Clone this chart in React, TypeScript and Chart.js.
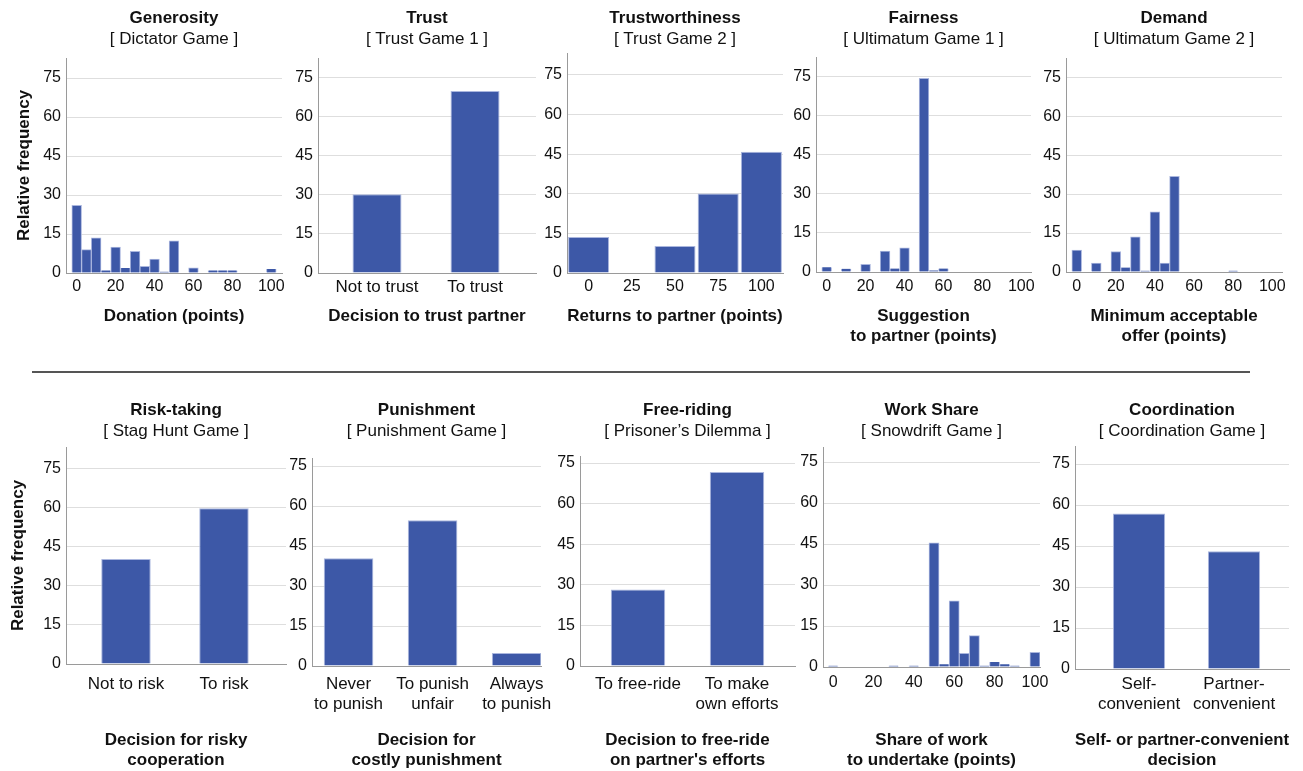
import React, { useEffect, useRef } from 'react';
import { Chart, registerables } from 'chart.js';

Chart.register(...registerables);

// ---------------- data ----------------
const HIST_BINS = [0, 5, 10, 15, 20, 25, 30, 35, 40, 45, 50, 55, 60, 65, 70, 75, 80, 85, 90, 95, 100];
const HIST_TICKS = [0, 20, 40, 60, 80, 100];
const Y_TICKS = [0, 15, 30, 45, 60, 75];

const GENEROSITY_VALUES = [26.0, 9.0, 13.5, 1.0, 10.0, 1.9, 8.3, 2.6, 5.4, 0.5, 12.4, 0, 2.0, 0, 1.0, 1.0, 1.0, 0, 0, 0, 1.5];

const TRUST_LABELS = ['Not to trust', 'To trust'];
const TRUST_VALUES = [30.2, 69.8];

const TRUSTWORTHINESS_BINS = [0, 25, 50, 75, 100];
const TRUSTWORTHINESS_VALUES = [13.6, 0, 10.2, 30.1, 45.9];

const FAIRNESS_VALUES = [1.8, 0, 1.2, 0, 2.9, 0, 8.0, 1.3, 9.3, 0, 74.3, 0.6, 1.3, 0, 0, 0, 0, 0, 0, 0, 0];

const DEMAND_VALUES = [8.4, 0, 3.4, 0, 7.9, 1.7, 13.5, 0.5, 23.2, 3.4, 36.8, 0, 0, 0, 0, 0, 0.5, 0, 0, 0, 0];

const RISK_LABELS = ['Not to risk', 'To risk'];
const RISK_VALUES = [40.3, 59.7];

const PUNISH_LABELS = [['Never', 'to punish'], ['To punish', 'unfair'], ['Always', 'to punish']];
const PUNISH_VALUES = [40.4, 54.7, 4.9];

const FREERIDE_LABELS = [['To free-ride'], ['To make', 'own efforts']];
const FREERIDE_VALUES = [28.3, 71.7];

const WORKSHARE_VALUES = [0.5, 0, 0, 0, 0, 0, 0.5, 0, 0.5, 0, 45.4, 1.0, 24.2, 5.0, 11.5, 0.5, 1.8, 1.0, 0.5, 0, 5.4];

const COORD_LABELS = [['Self-', 'convenient'], ['Partner-', 'convenient']];
const COORD_VALUES = [56.9, 43.1];

// ---------------- styles ----------------
const FONT = "'Liberation Sans', Arial, Helvetica, sans-serif";
const BAR = '#3d58a7';
const BAR_BORDER = '#aab6de';
const GRID = '#dedede';
const AXIS = '#9a9a9a';
const TEXT = '#111111';

type Label = string | string[];

interface Panel {
  title: string;
  subtitle: string;
  xTitle: string | string[];
  xs: number[];
  values: number[];
  xTicks: number[];
  catLabels?: Label[];
  xMin: number;
  xMax: number;
  ratio: number;
  yMax: number;
  L: number; R: number; T: number; B: number;
  tickY: number;
  row: 0 | 1;
  yTitle: boolean;
}

const idx = (arr: unknown[]) => arr.map((_, i) => i);

const PANELS: Panel[] = [
  { title: 'Generosity', subtitle: '[ Dictator Game ]', xTitle: 'Donation (points)', xs: HIST_BINS, values: GENEROSITY_VALUES, xTicks: HIST_TICKS, xMin: -5.5, xMax: 105.5, ratio: 1, yMax: 82.7, L: 66, R: 282, T: 58, B: 273, tickY: 287, row: 0, yTitle: true },
  { title: 'Trust', subtitle: '[ Trust Game 1 ]', xTitle: 'Decision to trust partner', xs: idx(TRUST_LABELS), values: TRUST_VALUES, xTicks: idx(TRUST_LABELS), catLabels: TRUST_LABELS, xMin: -0.602, xMax: 1.622, ratio: 0.5, yMax: 82.5, L: 318, R: 536, T: 58, B: 273, tickY: 287, row: 0, yTitle: false },
  { title: 'Trustworthiness', subtitle: '[ Trust Game 2 ]', xTitle: 'Returns to partner (points)', xs: TRUSTWORTHINESS_BINS, values: TRUSTWORTHINESS_VALUES, xTicks: TRUSTWORTHINESS_BINS, xMin: -12.5, xMax: 112.5, ratio: 0.95, yMax: 83.3, L: 567, R: 783, T: 53, B: 273, tickY: 287, row: 0, yTitle: false },
  { title: 'Fairness', subtitle: '[ Ultimatum Game 1 ]', xTitle: ['Suggestion', 'to partner (points)'], xs: HIST_BINS, values: FAIRNESS_VALUES, xTicks: HIST_TICKS, xMin: -5.5, xMax: 105, ratio: 1, yMax: 82.5, L: 816, R: 1031, T: 57, B: 272, tickY: 287, row: 0, yTitle: false },
  { title: 'Demand', subtitle: '[ Ultimatum Game 2 ]', xTitle: ['Minimum acceptable', 'offer (points)'], xs: HIST_BINS, values: DEMAND_VALUES, xTicks: HIST_TICKS, xMin: -5.5, xMax: 105, ratio: 1, yMax: 82.4, L: 1066, R: 1282, T: 58, B: 272, tickY: 287, row: 0, yTitle: false },
  { title: 'Risk-taking', subtitle: '[ Stag Hunt Game ]', xTitle: ['Decision for risky', 'cooperation'], xs: idx(RISK_LABELS), values: RISK_VALUES, xTicks: idx(RISK_LABELS), catLabels: RISK_LABELS, xMin: -0.612, xMax: 1.633, ratio: 0.505, yMax: 83.2, L: 66, R: 286, T: 447, B: 664, tickY: 684, row: 1, yTitle: true },
  { title: 'Punishment', subtitle: '[ Punishment Game ]', xTitle: ['Decision for', 'costly punishment'], xs: idx(PUNISH_LABELS), values: PUNISH_VALUES, xTicks: idx(PUNISH_LABELS), catLabels: PUNISH_LABELS, xMin: -0.435, xMax: 2.29, ratio: 0.59, yMax: 78, L: 312, R: 541, T: 458, B: 666, tickY: 684, row: 1, yTitle: false },
  { title: 'Free-riding', subtitle: '[ Prisoner\u2019s Dilemma ]', xTitle: ['Decision to free-ride', "on partner's efforts"], xs: idx(FREERIDE_LABELS), values: FREERIDE_VALUES, xTicks: idx(FREERIDE_LABELS), catLabels: FREERIDE_LABELS, xMin: -0.586, xMax: 1.586, ratio: 0.55, yMax: 77.6, L: 580, R: 795, T: 456, B: 666, tickY: 684, row: 1, yTitle: false },
  { title: 'Work Share', subtitle: '[ Snowdrift Game ]', xTitle: ['Share of work', 'to undertake (points)'], xs: HIST_BINS, values: WORKSHARE_VALUES, xTicks: HIST_TICKS, xMin: -5, xMax: 102.5, ratio: 1, yMax: 80.5, L: 823, R: 1040, T: 447, B: 667, tickY: 683, row: 1, yTitle: false },
  { title: 'Coordination', subtitle: '[ Coordination Game ]', xTitle: ['Self- or partner-convenient', 'decision'], xs: idx(COORD_LABELS), values: COORD_VALUES, xTicks: idx(COORD_LABELS), catLabels: COORD_LABELS, xMin: -0.674, xMax: 1.579, ratio: 0.55, yMax: 81.6, L: 1075, R: 1289, T: 446, B: 669, tickY: 684, row: 1, yTitle: false },
];

const ROWS = [
  { cy0: 0, cy1: 350, titleC: 18, subC: 39, yTitleC: 24.5 },
  { cy0: 380, cy1: 771, titleC: 410, subC: 431.5, yTitleC: 18.5 },
];

function geometry(p: Panel) {
  const row = ROWS[p.row];
  const yW = p.yTitle ? p.L : 45;
  const cx0 = p.L - yW;
  const cx1 = Math.min(p.R + 24, 1303);
  return { row, yW, cx0, cx1, w: cx1 - cx0, h: row.cy1 - row.cy0 };
}

function makeConfig(p: Panel): any {
  const { row, yW, cx1 } = geometry(p);
  const titleLH = 17 * 1.2;
  const tickSize = p.catLabels ? 17 : 16;
  const tickLH = tickSize * 1.2;
  const xTitleLines = Array.isArray(p.xTitle) ? p.xTitle.length : 1;
  const lastLineC = row.cy0 === 0 ? (xTitleLines === 1 ? 316 : 336.7) : 760.5;
  const xH = row.cy1 - p.B;
  return {
    type: 'bar',
    data: {
      datasets: [
        {
          data: p.xs.map((x, i) => ({ x, y: p.values[i] })),
          backgroundColor: BAR,
          borderColor: BAR_BORDER,
          borderWidth: (ctx: any) => {
            const v = ctx.raw && typeof ctx.raw.y === 'number' ? ctx.raw.y : 0;
            return { top: v < 2 ? 0 : 1, left: 1, right: 1, bottom: 0 };
          },
          borderSkipped: false,
          barPercentage: p.ratio,
          categoryPercentage: 1,
        },
      ],
    },
    options: {
      responsive: false,
      animation: false,
      events: [],
      layout: { padding: { top: 0, left: 0, bottom: 0, right: cx1 - p.R } },
      plugins: {
        legend: { display: false },
        tooltip: { enabled: false },
        title: {
          display: true,
          text: p.title,
          fullSize: false,
          color: TEXT,
          font: { family: FONT, size: 17, weight: 'bold' },
          padding: { top: row.titleC - row.cy0 - titleLH / 2, bottom: 0 },
        },
        subtitle: {
          display: true,
          text: p.subtitle,
          fullSize: false,
          color: TEXT,
          font: { family: FONT, size: 17, weight: 'normal' },
          padding: { top: row.subC - row.titleC - titleLH, bottom: p.T - (row.subC + titleLH / 2) },
        },
      },
      scales: {
        x: {
          type: 'linear',
          min: p.xMin,
          max: p.xMax,
          offset: false,
          grid: { display: false, offset: false, drawTicks: false },
          border: { display: true, color: AXIS, width: 1 },
          afterBuildTicks: (s: any) => {
            s.ticks = p.xTicks.map((v) => ({ value: v }));
          },
          afterFit: (s: any) => {
            s.height = xH;
          },
          ticks: {
            autoSkip: false,
            maxRotation: 0,
            minRotation: 0,
            padding: p.tickY - p.B - tickLH / 2,
            color: TEXT,
            font: { family: FONT, size: tickSize },
            callback: (v: number) => (p.catLabels ? p.catLabels[Math.round(v)] : String(v)),
          },
          title: {
            display: true,
            text: p.xTitle,
            color: TEXT,
            font: { family: FONT, size: 17, weight: 'bold' },
            padding: { top: 0, bottom: row.cy1 - lastLineC - titleLH / 2 },
          },
        },
        y: {
          type: 'linear',
          min: 0,
          max: p.yMax,
          grid: {
            drawTicks: false,
            lineWidth: 1,
            color: (ctx: any) => (ctx.tick && ctx.tick.value === 0 ? 'rgba(0,0,0,0)' : GRID),
          },
          border: { display: true, color: AXIS, width: 1 },
          afterBuildTicks: (s: any) => {
            s.ticks = Y_TICKS.map((v) => ({ value: v }));
          },
          afterFit: (s: any) => {
            s.width = yW;
          },
          ticks: {
            padding: 5,
            color: TEXT,
            font: { family: FONT, size: 16 },
            callback: (v: number) => String(v),
          },
          title: {
            display: p.yTitle,
            text: 'Relative frequency',
            color: TEXT,
            font: { family: FONT, size: 17, weight: 'bold' },
            padding: { top: row.yTitleC - titleLH / 2, bottom: 0 },
          },
        },
      },
    },
  };
}

function PanelCanvas({ p }: { p: Panel }) {
  const ref = useRef<HTMLCanvasElement | null>(null);
  const g = geometry(p);
  useEffect(() => {
    if (!ref.current) return;
    const chart = new Chart(ref.current, makeConfig(p));
    return () => chart.destroy();
  }, [p]);
  return (
    <canvas
      ref={ref}
      width={g.w}
      height={g.h}
      style={{ position: 'absolute', left: g.cx0, top: g.row.cy0, width: g.w, height: g.h }}
    />
  );
}

export default function App() {
  return (
    <div
      style={{
        position: 'absolute',
        left: 0,
        top: 0,
        width: 1303,
        height: 771,
        overflow: 'hidden',
        background: '#ffffff',
      }}
    >
      {PANELS.map((p) => (
        <PanelCanvas key={p.title} p={p} />
      ))}
      <div
        style={{
          position: 'absolute',
          left: 32,
          top: 371,
          width: 1218,
          height: 1.5,
          background: '#555555',
        }}
      />
    </div>
  );
}
